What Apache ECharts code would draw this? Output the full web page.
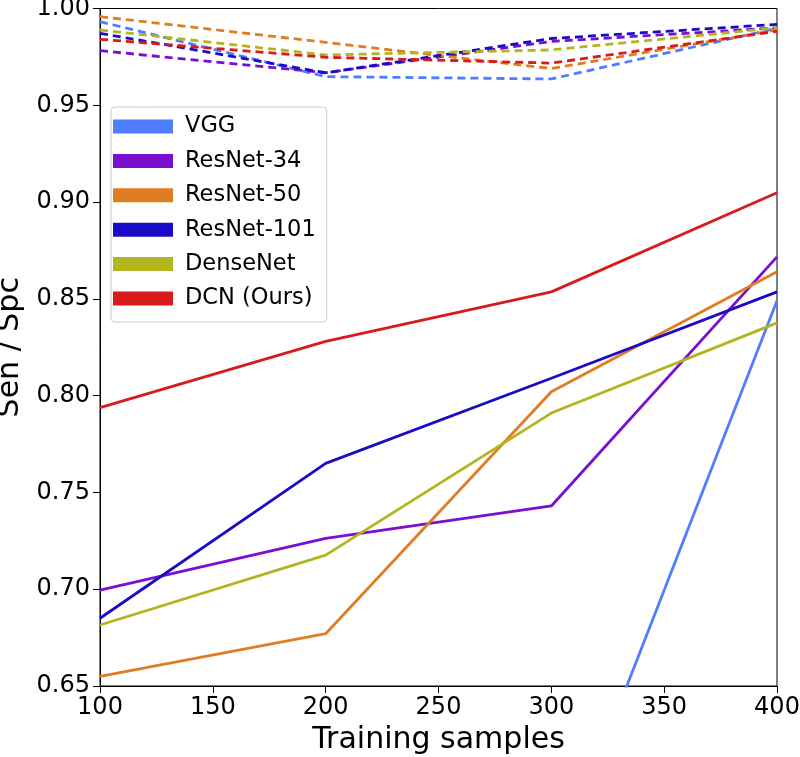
<!DOCTYPE html>
<html>
<head>
<meta charset="utf-8">
<script src="https://cdn.jsdelivr.net/npm/echarts@6/dist/echarts.min.js"></script>
<style>html,body{margin:0;padding:0;background:#fff}#c{width:800px;height:757px}</style>
</head>
<body>
<div id="c"></div>
<script>
const samples = [100, 200, 300, 400];
const names = ['VGG', 'ResNet-34', 'ResNet-50', 'ResNet-101', 'DenseNet', 'DCN (Ours)'];
const colors = ['#4f7dff', '#7a0fd2', '#e07d22', '#1a0cc6', '#b2b51e', '#d81b1b'];
// Solid lines (lower group)
const vggSolid     = [0.54, 0.548, 0.550, 0.849];
const res34Solid   = [0.6995, 0.7263, 0.743, 0.8717];
const res50Solid   = [0.655, 0.677, 0.802, 0.864];
const res101Solid  = [0.685, 0.765, 0.809, 0.8536];
const denseSolid   = [0.6815, 0.7176, 0.791, 0.8376];
const dcnSolid     = [0.7938, 0.828, 0.8536, 0.9048];
// Dashed lines (upper group)
const vggDash      = [0.9932, 0.9648, 0.9636, 0.9898];
const res34Dash    = [0.9782, 0.9668, 0.983, 0.990];
const res50Dash    = [0.9958, 0.9825, 0.969, 0.9889];
const res101Dash   = [0.9872, 0.9668, 0.9845, 0.9918];
const denseDash    = [0.9889, 0.976, 0.9786, 0.990];
const dcnDash      = [0.9841, 0.9748, 0.9718, 0.9882];
const yTicks = [0.65, 0.70, 0.75, 0.80, 0.85, 0.90, 0.95, 1.00];

const solids = [vggSolid, res34Solid, res50Solid, res101Solid, denseSolid, dcnSolid];
const dashes = [vggDash, res34Dash, res50Dash, res101Dash, denseDash, dcnDash];
const pairs = arr => samples.map((x, i) => [x, arr[i]]);
const font = 'DejaVu Sans';

const series = [];
names.forEach((n, i) => {
  series.push({
    name: n, type: 'line', data: pairs(solids[i]), showSymbol: false, symbol: 'none',
    color: colors[i], lineStyle: {width: 2.8, color: colors[i]}, itemStyle: {color: colors[i]},
    animation: false, clip: true, z: 2
  });
});
names.forEach((n, i) => {
  series.push({
    name: n, type: 'line', data: pairs(dashes[i]), showSymbol: false, symbol: 'none',
    color: colors[i], lineStyle: {width: 2.8, color: colors[i], type: [8, 5]}, itemStyle: {color: colors[i]},
    animation: false, clip: true, z: 2
  });
});

const chart = echarts.init(document.getElementById('c'), null, {renderer: 'canvas'});
chart.setOption({
  animation: false,
  backgroundColor: '#fff',
  textStyle: {fontFamily: font},
  grid: {left: 100, right: 23, top: 8.5, bottom: 71, show: true, borderColor: '#000', borderWidth: 1,
         containLabel: false, outerBoundsMode: 'none'},
  legend: {
    data: names, orient: 'vertical', left: 111, top: 107, icon: 'rect',
    itemWidth: 60, itemHeight: 14, itemGap: 11.4,
    padding: [8, 11, 12, 2],
    backgroundColor: '#fff', borderColor: '#cccccc', borderWidth: 1, borderRadius: 4,
    textStyle: {fontFamily: font, fontSize: 22.5, lineHeight: 22, color: '#000', padding: [0, 0, 0, 7]},
    selectedMode: false
  },
  xAxis: {
    type: 'value', min: 100, max: 400, interval: 50,
    name: 'Training samples', nameLocation: 'middle', nameGap: 33,
    nameTextStyle: {fontFamily: font, fontSize: 30, color: '#000'},
    axisLine: {show: true, onZero: false, lineStyle: {color: '#000', width: 1}},
    axisTick: {show: true, inside: false, length: 7, lineStyle: {color: '#000'}},
    axisLabel: {fontFamily: font, fontSize: 24, color: '#000', margin: 10},
    splitLine: {show: false}
  },
  yAxis: {
    type: 'value', min: 0.65, max: 1.0, interval: 0.05,
    name: 'Sen / Spc', nameLocation: 'middle', nameGap: 62,
    nameTextStyle: {fontFamily: font, fontSize: 30, color: '#000'},
    axisLine: {show: true, onZero: false, lineStyle: {color: '#000', width: 1}},
    axisTick: {show: true, inside: false, length: 7, lineStyle: {color: '#000'}},
    axisLabel: {fontFamily: font, fontSize: 24, color: '#000', margin: 10,
      formatter: v => {
        const t = yTicks.find(k => Math.abs(k - v) < 1e-6);
        return t !== undefined ? t.toFixed(2) : '';
      }},
    splitLine: {show: false}
  },
  series: series
});
</script>
</body>
</html>
